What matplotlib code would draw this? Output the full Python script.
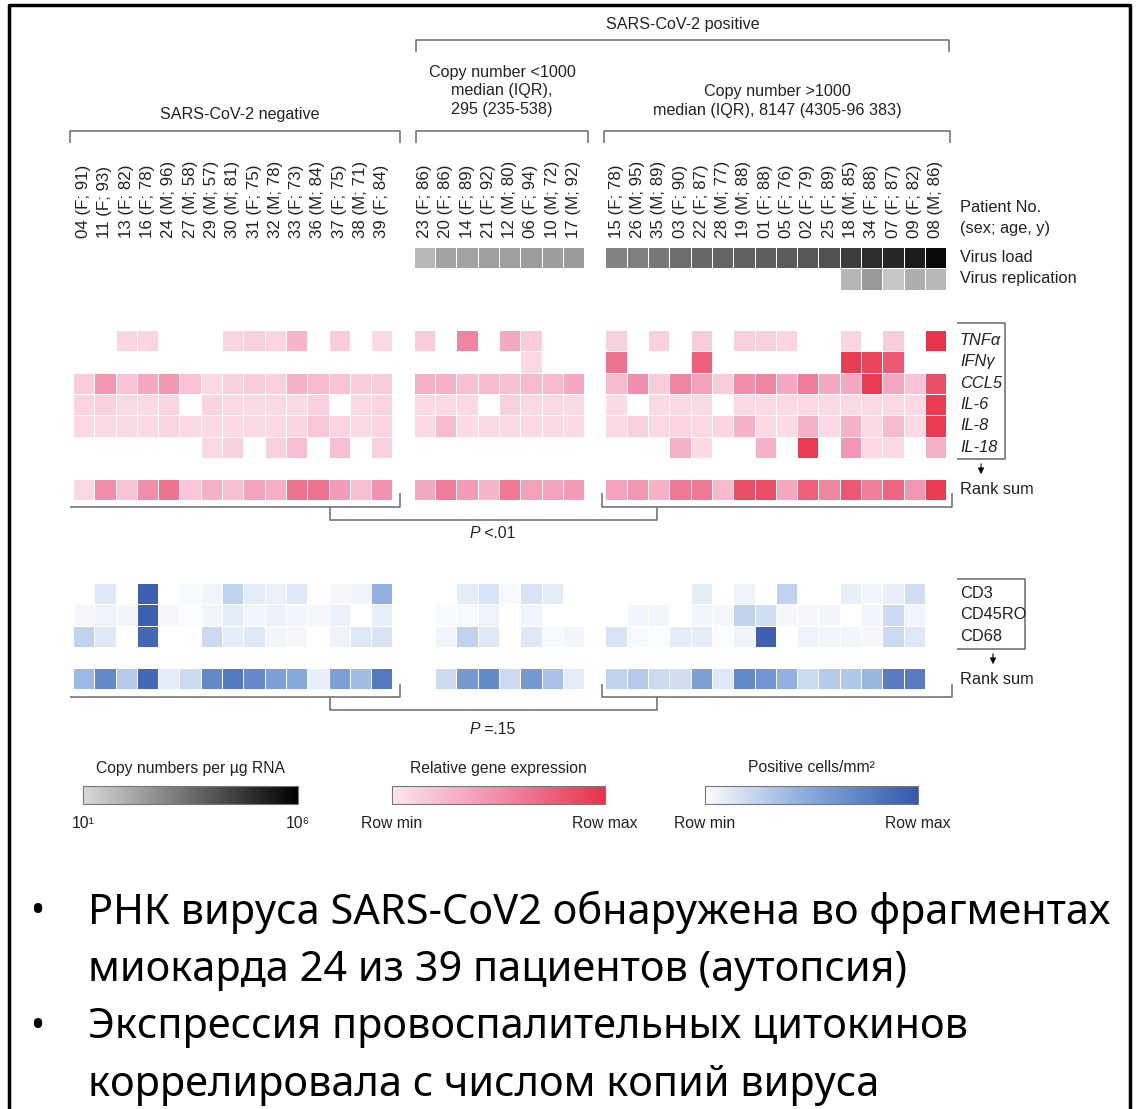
import numpy as np
import matplotlib
matplotlib.use("Agg")
import matplotlib.pyplot as plt
from matplotlib.colors import LinearSegmentedColormap
from matplotlib.patches import Rectangle

n = np.nan

### Data ###

patients_neg = ["04 (F; 91)", "11 (F; 93)", "13 (F; 82)", "16 (F; 78)", "24 (M; 96)", "27 (M; 58)",
                "29 (M; 57)", "30 (M; 81)", "31 (F; 75)", "32 (M; 78)", "33 (F; 73)", "36 (M; 84)",
                "37 (F; 75)", "38 (M; 71)", "39 (F; 84)"]
patients_low = ["23 (F; 86)", "20 (F; 86)", "14 (F; 89)", "21 (F; 92)", "12 (M; 80)", "06 (F; 94)",
                "10 (M; 72)", "17 (M; 92)"]
patients_high = ["15 (F; 78)", "26 (M; 95)", "35 (M; 89)", "03 (F; 90)", "22 (F; 87)", "28 (M; 77)",
                 "19 (M; 88)", "01 (F; 88)", "05 (F; 76)", "02 (F; 79)", "25 (F; 89)", "18 (M; 85)",
                 "34 (F; 88)", "07 (F; 87)", "09 (F; 82)", "08 (M; 86)"]

# log10 copy numbers per ug RNA
virus_load = [n] * 15 + [1.8, 2.3, 2.3, 2.35, 2.35, 2.4, 2.4, 2.45] + \
             [3.0, 3.1, 3.25, 3.5, 3.65, 3.7, 3.8, 3.85, 3.9, 4.0, 4.15, 4.6, 5.0, 5.1, 5.35, 5.8]
virus_replication = [n] * 15 + [n] * 8 + [n] * 11 + [0.17, 0.3, 0.09, 0.2, 0.16]

# relative gene expression (0 = row min, 1 = row max), nan = not detected
tnfa = [n, n, .1, .1, n, n, n, .1, .12, .1, .28, n, .15, n, .07] + \
       [.15, n, .55, n, .35, .15, n, n] + \
       [.12, n, .12, n, .15, n, .12, .12, .1, n, n, .1, n, .15, n, 1.0]
ifng = [n] * 15 + [n, n, n, n, n, .08, n, n] + \
       [.65, n, n, n, .75, n, n, n, n, n, n, .95, .9, .8, n, n]
ccl5 = [.15, .45, .2, .35, .45, .2, .08, .12, .15, .12, .3, .25, .2, .15, .15] + \
       [.3, .3, .22, .25, .22, .25, .25, .35] + \
       [.25, .5, .15, .55, .4, .15, .5, .55, .35, .6, .35, .35, .95, .35, .2, .85]
il6 = [.1, .12, .08, .08, .1, n, .1, .08, .08, .08, .06, .12, n, .08, .1] + \
      [.08, .08, .08, n, .12, .08, .08, .08] + \
      [.06, n, .08, .08, .08, n, .08, .08, .08, .08, .08, .08, .08, .08, .08, .95]
il8 = [.08, .08, .08, .08, .1, .07, .07, .07, .08, .07, .1, .18, .1, .08, .1] + \
      [.08, .25, .06, .08, .07, .07, .07, .07] + \
      [.07, .12, .08, .1, .08, .1, .3, .08, .06, .3, .08, .3, .08, .25, .08, .95]
il18 = [n, n, n, n, n, n, .08, .12, n, .12, .22, n, .22, n, .12] + [n] * 8 + \
       [n, n, n, .3, .06, n, n, .3, n, .95, n, .45, .08, .08, n, .3]
gene_rank = [.08, .5, .2, .5, .65, .18, .3, .22, .38, .32, .65, .65, .42, .22, .48] + \
            [.35, .6, .42, .28, .62, .4, .38, .42] + \
            [.38, .45, .3, .62, .62, .25, .85, .85, .35, .75, .55, .8, .58, .72, .45, .95]

# positive cells/mm2 (0 = row min, 1 = row max)
cd3 = [n, .12, n, .95, n, .02, .05, .25, .1, .07, .12, n, .03, .06, .45] + \
      [n, n, .1, .15, .02, .15, .1, n] + \
      [n, n, n, n, .1, n, .06, n, .25, n, n, .08, .04, .08, .18, n]
cd45ro = [.03, .06, .04, .95, .03, .01, .04, .1, .04, .07, .04, .03, .07, n, .08] + \
         [n, .02, .02, .06, n, .05, n, n] + \
         [n, .04, .04, n, .04, .03, .25, .18, .03, .03, .04, n, .04, .2, .05, n]
cd68 = [.25, .12, n, .9, n, n, .2, .1, .12, .04, .03, n, .06, .12, .15] + \
       [n, .05, .25, .12, n, .12, .02, .04] + \
       [.15, .02, .01, .1, .1, .01, .06, .95, n, .06, .04, .04, .03, .2, .12, n]
cd_rank = [.4, .7, .3, .9, .1, .2, .7, .8, .7, .55, .5, .08, .55, .38, .8] + \
          [n, .2, .6, .7, .2, .6, .35, .1] + \
          [.25, .3, .2, .18, .55, .12, .7, .62, .45, .2, .3, .32, .42, .78, .78, n]

gene_names = ["TNFα", "IFNγ", "CCL5", "IL-6", "IL-8", "IL-18"]
cd_names = ["CD3", "CD45RO", "CD68"]

bullets = [
    ["РНК вируса SARS-CoV2 обнаружена во фрагментах", "миокарда 24 из 39 пациентов (аутопсия)"],
    ["Экспрессия провоспалительных цитокинов", "коррелировала с числом копий вируса"],
]

### Layout ###

W, H = 1138, 1109
X0, CW = 73, 21.3
FONT = ["Liberation Sans", "DejaVu Sans"]
SLIDE_FONT = ["Noto Sans", "DejaVu Sans"]
TXT = "#222222"
LINE = "#6a6a6a"

plt.rcParams["font.family"] = FONT

gray_cmap = LinearSegmentedColormap.from_list("gray", ["#dadada", "#000000"])
pink_cmap = LinearSegmentedColormap.from_list("pink", ["#fce6ee", "#f18eac", "#e8334a"])
blue_cmap = LinearSegmentedColormap.from_list("blue", ["#fbfcff", "#86a8dc", "#3558ad"])


def with_gaps(vals):
    """ Insert an empty column between the 3 patient groups. """
    v = list(vals)
    return v[:15] + [n] + v[15:23] + [n] + v[23:]


xedges = X0 + np.arange(42) * CW
col_idx = list(range(15)) + list(range(16, 24)) + list(range(25, 41))
xcent = X0 + (np.array(col_idx) + 0.5) * CW


def draw_block(ax, rows, top, cmap, vmin=0, vmax=1):
    data = np.array([with_gaps(r) for r in rows], dtype=float)
    yedges = top + np.arange(len(rows) + 1) * CW
    ax.pcolormesh(xedges, yedges, np.ma.masked_invalid(data), cmap=cmap, vmin=vmin, vmax=vmax,
                  edgecolors="white", linewidth=0.4)


def bracket(ax, xs, ys):
    ax.plot(xs, ys, color=LINE, lw=1.1, solid_capstyle="butt")


def colorbar(ax, x0, x1, y0, y1, cmap, title, left, right):
    grad = np.linspace(0, 1, 256)[None, :]
    ax.imshow(grad, extent=(x0, x1, y1, y0), cmap=cmap, aspect="auto", interpolation="bilinear")
    ax.add_patch(Rectangle((x0, y0), x1 - x0, y1 - y0, fill=False, edgecolor="#777777", lw=0.8))
    ax.text((x0 + x1) / 2, y0 - 18, title, ha="center", va="center", fontsize=11.3, color=TXT)
    ax.text(x0, y1 + 19, left, ha="center", va="center", fontsize=11.3, color=TXT)
    ax.text(x1, y1 + 19, right, ha="center", va="center", fontsize=11.3, color=TXT)


def main():
    fig = plt.figure(figsize=(W / 100, H / 100), dpi=100)
    ax = fig.add_axes([0, 0, 1, 1])
    ax.set_xlim(0, W)
    ax.set_ylim(H, 0)
    ax.axis("off")

    # frame
    ax.plot([9, 9, 1130, 1130], [H + 5, 5, 5, H + 5], color="black", lw=2.5)

    # group headers
    ax.text(683, 24, "SARS-CoV-2 positive", ha="center", va="center", fontsize=11.6, color=TXT)
    bracket(ax, [416, 416, 949, 949], [52, 40, 40, 52])
    ax.text(502, 91, "Copy number <1000\nmedian (IQR),\n295 (235-538)", ha="center", va="center",
            fontsize=11.6, color=TXT, linespacing=1.3)
    ax.text(777, 101, "Copy number >1000\nmedian (IQR), 8147 (4305-96 383)", ha="center", va="center",
            fontsize=11.6, color=TXT, linespacing=1.3)
    ax.text(240, 115, "SARS-CoV-2 negative", ha="center", va="center", fontsize=11.6, color=TXT)
    bracket(ax, [70, 70, 400, 400], [143, 131, 131, 143])
    bracket(ax, [416, 416, 588, 588], [143, 131, 131, 143])
    bracket(ax, [604, 604, 950, 950], [143, 131, 131, 143])

    # patient labels
    for x, lab in zip(xcent, patients_neg + patients_low + patients_high):
        ax.text(x, 238, lab, rotation=90, ha="center", va="bottom", fontsize=12.2, color=TXT)
    ax.text(960, 208, "Patient No.", ha="left", va="center", fontsize=11.8, color=TXT)
    ax.text(960, 229, "(sex; age, y)", ha="left", va="center", fontsize=11.8, color=TXT)

    # virus rows
    draw_block(ax, [virus_load], 247, gray_cmap, 1, 6)
    draw_block(ax, [virus_replication], 247 + CW, gray_cmap, 0, 1)
    ax.text(960, 257, "Virus load", ha="left", va="center", fontsize=11.8, color=TXT)
    ax.text(960, 278, "Virus replication", ha="left", va="center", fontsize=11.8, color=TXT)

    # gene expression
    gtop = 330
    draw_block(ax, [tnfa, ifng, ccl5, il6, il8, il18], gtop, pink_cmap)
    draw_block(ax, [gene_rank], 479, pink_cmap)
    for i, name in enumerate(gene_names):
        ax.text(960, gtop + (i + 0.5) * CW, name, ha="left", va="center", fontsize=11.8,
                style="italic", color=TXT)
    bracket(ax, [957, 1005, 1005, 957], [323, 323, 459, 459])
    ax.annotate("", xy=(981, 477), xytext=(981, 461),
                arrowprops=dict(arrowstyle="-|>", color="black", lw=0.8, mutation_scale=9))
    ax.text(960, 490, "Rank sum", ha="left", va="center", fontsize=11.8, color=TXT)

    bracket(ax, [70, 400, 400], [507, 507, 493])
    bracket(ax, [602, 602, 952, 952], [493, 507, 507, 493])
    bracket(ax, [330, 330, 657, 657], [507, 520, 520, 507])
    ax.text(480, 534, "P", ha="right", va="center", fontsize=11.3, style="italic", color=TXT)
    ax.text(480, 534, " <.01", ha="left", va="center", fontsize=11.3, color=TXT)

    # immune cells
    ctop = 583
    draw_block(ax, [cd3, cd45ro, cd68], ctop, blue_cmap)
    draw_block(ax, [cd_rank], 668, blue_cmap)
    for i, name in enumerate(cd_names):
        ax.text(960, ctop + (i + 0.5) * CW, name, ha="left", va="center", fontsize=11.8, color=TXT)
    bracket(ax, [957, 1025, 1025, 957], [579, 579, 649, 649])
    ax.annotate("", xy=(993, 667), xytext=(993, 651),
                arrowprops=dict(arrowstyle="-|>", color="black", lw=0.8, mutation_scale=9))
    ax.text(960, 680, "Rank sum", ha="left", va="center", fontsize=11.8, color=TXT)

    bracket(ax, [70, 400, 400], [697, 697, 684])
    bracket(ax, [602, 602, 952, 952], [684, 697, 697, 684])
    bracket(ax, [330, 330, 657, 657], [697, 710, 710, 697])
    ax.text(480, 729, "P", ha="right", va="center", fontsize=11.3, style="italic", color=TXT)
    ax.text(480, 729, " =.15", ha="left", va="center", fontsize=11.3, color=TXT)

    # legends
    colorbar(ax, 83, 298, 786, 804, gray_cmap, "Copy numbers per µg RNA", "10¹", "10⁶")
    colorbar(ax, 392, 605, 786, 804, pink_cmap, "Relative gene expression", "Row min", "Row max")
    colorbar(ax, 705, 918, 786, 804, blue_cmap, "Positive cells/mm²", "Row min", "Row max")

    # slide bullets
    line_y = [[912, 970], [1027, 1085]]
    for ys, lines in zip(line_y, bullets):
        ax.text(37, ys[0], "•", ha="center", va="center", fontsize=27, family=SLIDE_FONT)
        for y, txt in zip(ys, lines):
            ax.text(88, y, txt, ha="left", va="center", fontsize=29.9, family=SLIDE_FONT, color="black")

    fig.savefig("out.png", dpi=100)


if __name__ == "__main__":
    main()
